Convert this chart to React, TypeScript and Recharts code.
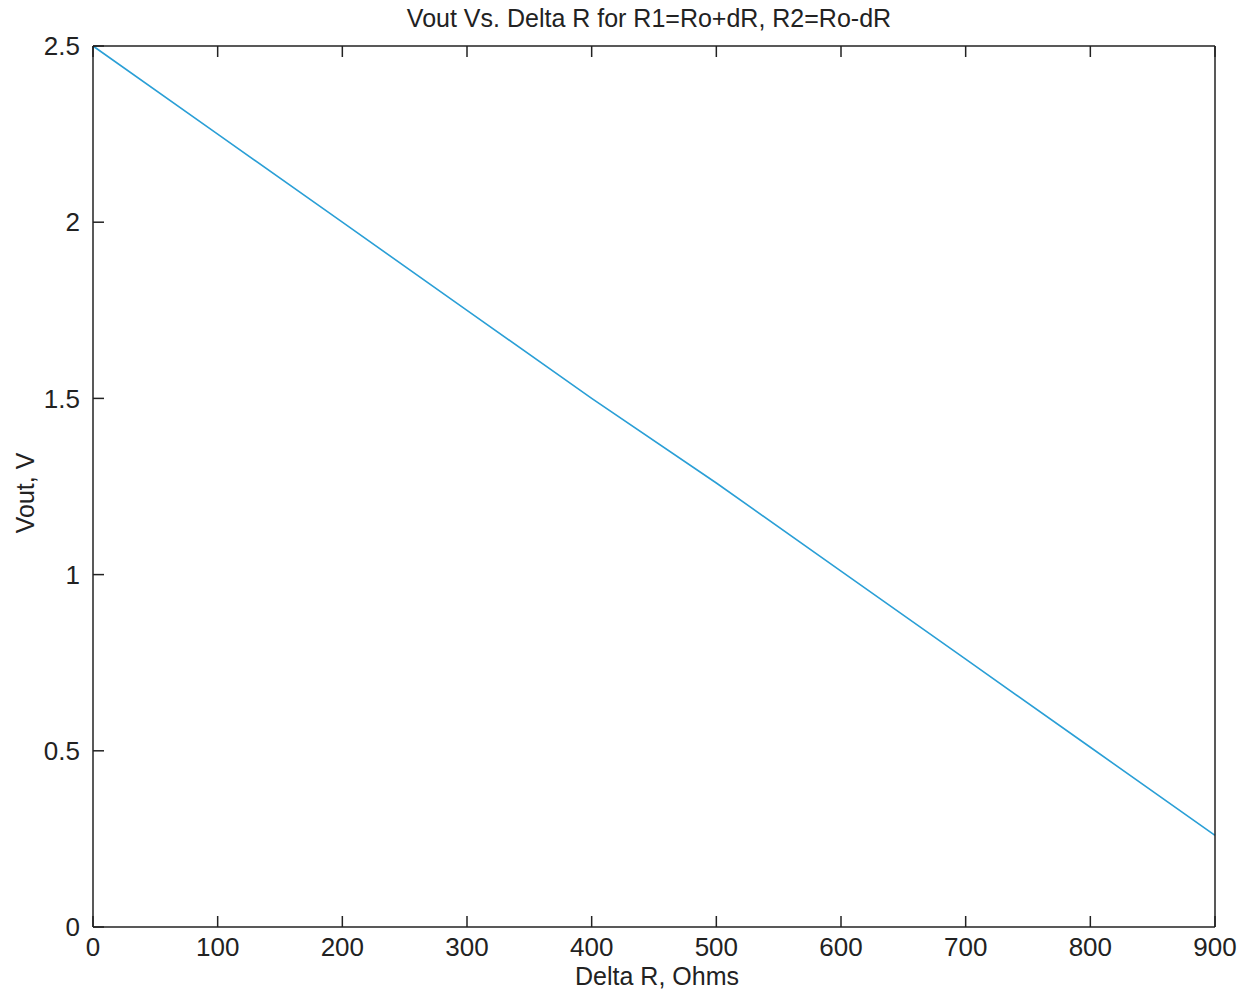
import React from 'react';
import { LineChart, Line, XAxis, YAxis } from 'recharts';

const deltaR = [0, 100, 200, 300, 400, 500, 600, 700, 800, 900];
const vout = [2.5, 2.25, 2.0, 1.75, 1.5, 1.26, 1.01, 0.76, 0.51, 0.26];
const xTicks = [0, 100, 200, 300, 400, 500, 600, 700, 800, 900];
const yTicks = [0, 0.5, 1, 1.5, 2, 2.5];

const data = deltaR.map((d, i) => ({ dR: d, vout: vout[i] }));

const font = '"Liberation Sans", Arial, Helvetica, sans-serif';
const axisColor = '#222';

export default function App() {
  return (
    <div style={{ position: 'absolute', left: 0, top: 0, width: 1250, height: 994, background: '#fff', fontFamily: font }}>
      <LineChart
        width={1250}
        height={994}
        data={data}
        margin={{ top: 16, right: 5, bottom: 37, left: 33 }}
      >
        <XAxis
          xAxisId="bottom"
          dataKey="dR"
          type="number"
          domain={[0, 900]}
          ticks={xTicks}
          height={30}
          stroke={axisColor}
          strokeWidth={1.5}
          tickSize={-11}
          tickMargin={22}
          tick={{ fill: '#222', fontSize: 26, fontFamily: font }}
        />
        <XAxis
          xAxisId="top"
          orientation="top"
          dataKey="dR"
          type="number"
          domain={[0, 900]}
          ticks={xTicks}
          height={30}
          stroke={axisColor}
          strokeWidth={1.5}
          tickSize={-11}
          tickFormatter={() => ''}
        />
        <YAxis
          yAxisId="left"
          type="number"
          domain={[0, 2.5]}
          ticks={yTicks}
          width={60}
          stroke={axisColor}
          strokeWidth={1.5}
          tickSize={-11}
          tickMargin={24}
          tick={{ fill: '#222', fontSize: 26, fontFamily: font }}
        />
        <YAxis
          yAxisId="right"
          orientation="right"
          type="number"
          domain={[0, 2.5]}
          ticks={yTicks}
          width={30}
          stroke={axisColor}
          strokeWidth={1.5}
          tickSize={-11}
          tickFormatter={() => ''}
        />
        <Line
          xAxisId="bottom"
          yAxisId="left"
          type="linear"
          dataKey="vout"
          stroke="#2a9fd6"
          strokeWidth={1.6}
          dot={false}
          isAnimationActive={false}
        />
      </LineChart>
      <div style={{ position: 'absolute', left: 0, width: 1298, top: 4, textAlign: 'center', fontSize: 25, color: '#222' }}>
        Vout Vs. Delta R for R1=Ro+dR, R2=Ro-dR
      </div>
      <div style={{ position: 'absolute', left: 0, width: 1314, top: 962, textAlign: 'center', fontSize: 25, color: '#222' }}>
        Delta R, Ohms
      </div>
      <div
        style={{
          position: 'absolute',
          left: 25,
          top: 493,
          fontSize: 25,
          color: '#222',
          whiteSpace: 'nowrap',
          transform: 'translate(-50%, -50%) rotate(-90deg)',
        }}
      >
        Vout, V
      </div>
    </div>
  );
}
